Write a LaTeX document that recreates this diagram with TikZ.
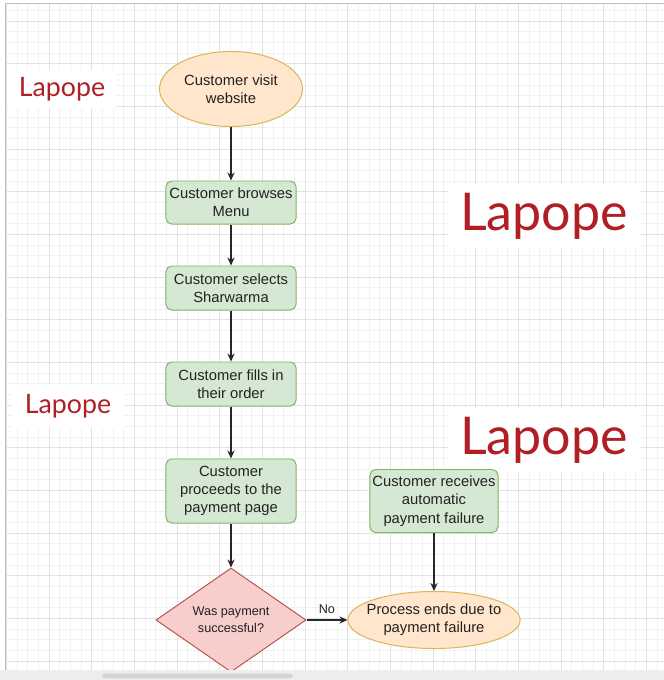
\documentclass[tikz,border=0pt]{standalone}
\usepackage{fontspec}
\setmainfont{Liberation Sans}
\newfontfamily\markfont{Lato}
\usetikzlibrary{shapes.geometric, positioning, arrows.meta}
\definecolor{peachfill}{HTML}{FFE6CC}
\definecolor{peachline}{HTML}{D6B656}
\definecolor{greenfill}{HTML}{D5E8D4}
\definecolor{greenline}{HTML}{82B366}
\definecolor{redfill}{HTML}{F8CECC}
\definecolor{redline}{HTML}{B85450}
\definecolor{markred}{HTML}{B11F24}
\definecolor{textgrey}{HTML}{222222}
\definecolor{gridminor}{HTML}{F1F1F1}
\definecolor{gridmajor}{HTML}{E2E2E2}

\begin{document}
\begin{tikzpicture}[x=0.025cm, y=-0.025cm,
startend/.style={ellipse, draw=peachline, fill=peachfill, line width=0.7pt, inner sep=0pt, align=center, text=textgrey, font=\fontsize{10.5}{13}\selectfont},
stepbox/.style={rectangle, rounded corners=4pt, draw=greenline, fill=greenfill, line width=0.7pt, minimum width=3.25cm, minimum height=1.1cm, inner sep=0pt, align=center, text=textgrey, font=\fontsize{10.5}{13}\selectfont},
decision/.style={diamond, draw=redline, fill=redfill, line width=0.7pt, minimum width=3.75cm, minimum height=2.6cm, inner sep=0pt, align=center, text=textgrey, font=\fontsize{9}{12}\selectfont},
watermark/.style={fill=white, text=markred, inner sep=0pt, font=\markfont},
flow/.style={draw=black!85, line width=0.9pt, -{Stealth[length=0.2cm, width=0.18cm]}}
]
\useasboundingbox (0,0) rectangle (664,680);
\fill[white] (0,0) rectangle (664,680);

% grid
\foreach \k in {0,...,61}
  \draw[gridminor, line width=0.5pt] ({6.3+10.667*\k},3) -- ({6.3+10.667*\k},670);
\foreach \k in {0,...,62}
  \draw[gridminor, line width=0.5pt] (5,{10.33+10.667*\k}) -- (664,{10.33+10.667*\k});
\foreach \k in {0,...,15}
  \draw[gridmajor, line width=0.6pt] ({6.3+42.667*\k},3) -- ({6.3+42.667*\k},670);
\foreach \k in {0,...,15}
  \draw[gridmajor, line width=0.6pt] (5,{21+42.667*\k}) -- (664,{21+42.667*\k});
\draw[black!25, line width=0.7pt] (5,670) -- (5,3) -- (664,3);

% watermarks
\node[watermark, minimum width=2.7cm, minimum height=0.95cm, font=\markfont\fontsize{19}{19}\selectfont] (markA) at (62,89) {Lapope};
\node[watermark, minimum width=4.8cm, minimum height=1.6cm, font=\markfont\fontsize{37}{37}\selectfont] (markB) at (544,216) {Lapope};
\node[watermark, minimum width=2.8cm, minimum height=1.05cm, font=\markfont\fontsize{19}{19}\selectfont] (markC) at (68,406) {Lapope};
\node[watermark, minimum width=4.8cm, minimum height=1.6cm, font=\markfont\fontsize{37}{37}\selectfont] (markD) at (544,440) {Lapope};

% flow
\node[startend, minimum width=3.575cm, minimum height=1.875cm] (visit) at (231,89) {Customer visit\\website};
\node[stepbox, minimum height=1.075cm] (browse) at (231,202.5) {Customer browses\\Menu};
\node[stepbox] (select) at (231,288) {Customer selects\\Sharwarma};
\node[stepbox] (fill) at (231,384) {Customer fills in\\their order};
\node[stepbox, minimum height=1.6cm] (proceed) at (231,491) {Customer\\proceeds to the\\payment page};
\node[decision] (paid) at (231,620) {Was payment\\successful?};
\node[startend, inner xsep=-0.16cm, minimum width=4.3cm, minimum height=1.425cm] (fail) at (434,620) {Process ends due to\\payment failure};
\node[stepbox, minimum width=3.2cm, minimum height=1.575cm] (receive) at (434,501) {Customer receives\\automatic\\payment failure};

\path[flow] (visit) edge (browse)
            (browse) edge (select)
            (select) edge (fill)
            (fill) edge (proceed)
            (proceed) edge (paid)
            (receive) edge (fail);
\draw[flow] (paid.east) -- node[above=1pt, text=textgrey, font=\fontsize{9}{9}\selectfont] {No} (fail.west);

% window bar
\fill[black!7] (0,670) rectangle (664,680);
\fill[black!17, rounded corners=2pt] (102,673.5) rectangle (293,678);
\end{tikzpicture}
\end{document}
